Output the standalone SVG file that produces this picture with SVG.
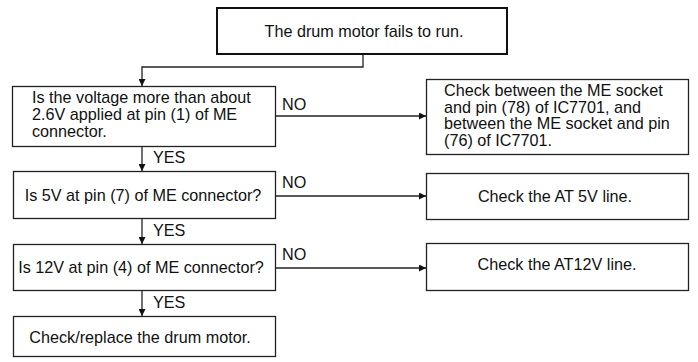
<svg xmlns="http://www.w3.org/2000/svg" width="698" height="362" viewBox="0 0 698 362">
<style>
.box{fill:#fff;stroke:#222;stroke-width:1.3}
.top{fill:#fff;stroke:#111;stroke-width:2}
.t{font-family:"Liberation Sans",Arial,sans-serif;font-size:16.2px;fill:#111}
.c{text-anchor:middle}
.ln{fill:none;stroke:#222;stroke-width:1.3}
</style>
<defs>
<marker id="ah" viewBox="0 0 10 10" refX="10" refY="5" markerWidth="7" markerHeight="7" markerUnits="userSpaceOnUse" orient="auto">
<path d="M0,0 L10,5 L0,10 z" fill="#111"/>
</marker>
</defs>
<g id="connectors">
<path class="ln" d="M363,54 V67 H142 V86" marker-end="url(#ah)"/>
<path class="ln" d="M275,116 H426" marker-end="url(#ah)"/>
<path class="ln" d="M142,146 V171" marker-end="url(#ah)"/>
<path class="ln" d="M275,196 H426" marker-end="url(#ah)"/>
<path class="ln" d="M142,218 V244" marker-end="url(#ah)"/>
<path class="ln" d="M275,268 H426" marker-end="url(#ah)"/>
<path class="ln" d="M142,290 V316" marker-end="url(#ah)"/>
<text class="t" x="282" y="110">NO</text>
<text class="t" x="153" y="163">YES</text>
<text class="t" x="282" y="188">NO</text>
<text class="t" x="153" y="236">YES</text>
<text class="t" x="282" y="260">NO</text>
<text class="t" x="153" y="308">YES</text>
</g>
<g id="n0">
<rect class="top" x="217" y="8" width="290" height="46"/>
<text class="t c" x="364" y="37">The drum motor fails to run.</text>
</g>
<g id="n1">
<rect class="box" x="12.5" y="86.5" width="263" height="60"/>
<text class="t" x="32" y="103">Is the voltage more than about</text>
<text class="t" x="32" y="120">2.6V applied at pin (1) of ME</text>
<text class="t" x="32" y="137">connector.</text>
</g>
<g id="n2">
<rect class="box" x="426.5" y="79.5" width="262" height="75"/>
<text class="t" x="444" y="96">Check between the ME socket</text>
<text class="t" x="444" y="112.5">and pin (78) of IC7701, and</text>
<text class="t" x="444" y="129">between the ME socket and pin</text>
<text class="t" x="444" y="145.5">(76) of IC7701.</text>
</g>
<g id="n3">
<rect class="box" x="13.5" y="171.5" width="262" height="47"/>
<text class="t c" x="143" y="201">Is 5V at pin (7) of ME connector?</text>
</g>
<g id="n4">
<rect class="box" x="426.5" y="173.5" width="262" height="46"/>
<text class="t c" x="555" y="202">Check the AT 5V line.</text>
</g>
<g id="n5">
<rect class="box" x="13.5" y="244.5" width="262" height="46"/>
<text class="t c" x="141" y="273">Is 12V at pin (4) of ME connector?</text>
</g>
<g id="n6">
<rect class="box" x="426.5" y="243.5" width="262" height="47"/>
<text class="t c" x="557" y="270">Check the AT12V line.</text>
</g>
<g id="n7">
<rect class="box" x="13.5" y="316.5" width="262" height="40"/>
<text class="t c" x="140" y="343">Check/replace the drum motor.</text>
</g>
</svg>
